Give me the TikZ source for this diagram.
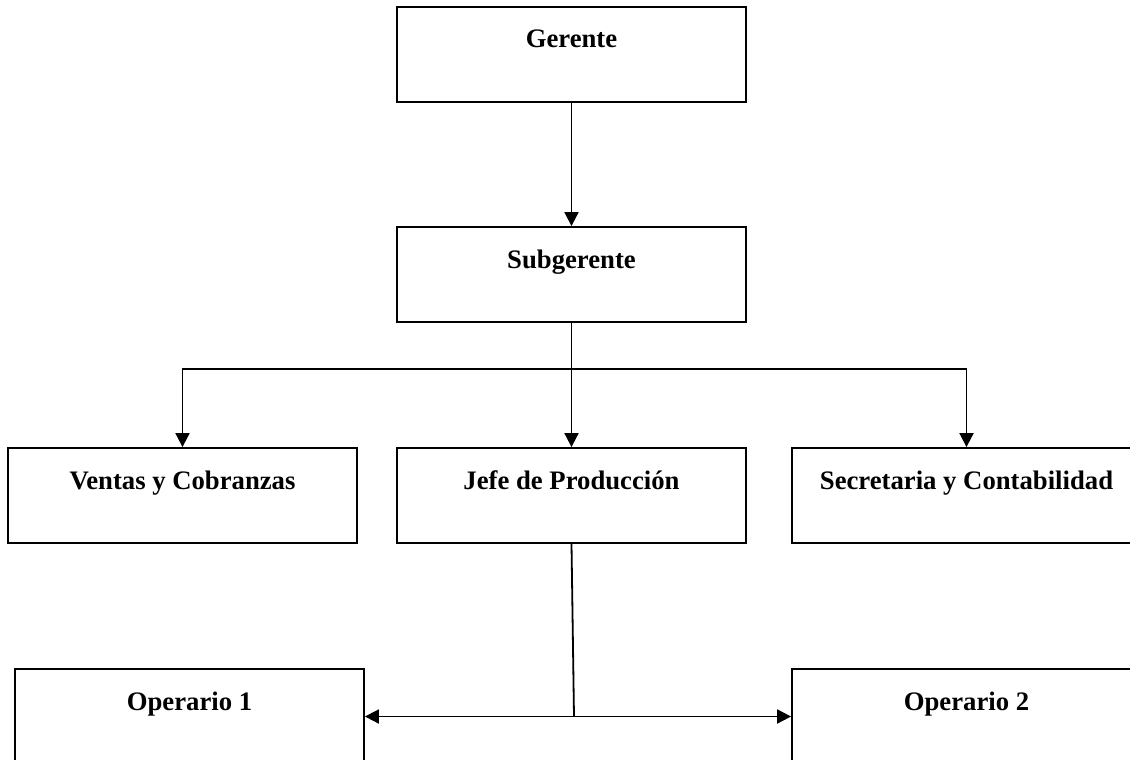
\documentclass[tikz,border=0pt]{standalone}
\usepackage{fontspec}
\setmainfont{Liberation Serif}
\usetikzlibrary{arrows.meta}

\begin{document}
\begin{tikzpicture}[x=1pt,y=-1pt,
      puesto/.style={rectangle,draw,line width=1.8pt,inner sep=0pt,
        minimum width=349pt,text height=41pt,text depth=54pt,
        font=\fontsize{26.7}{32}\selectfont\bfseries},
      enlace/.style={line width=1.8pt},
      flecha/.style={enlace,-{Triangle[length=14pt,width=14pt]}}]
      \useasboundingbox (0,0) rectangle (1130,760);
      % Direccion
      \node[puesto] (gerente) at (571.5,54.5) {Gerente};
      \node[puesto] (subgerente) at (571.5,274.5) {Subgerente};
      % Areas
      \node[puesto] (ventas) at (182.5,495.5) {Ventas y Cobranzas};
      \node[puesto] (jefe) at (571.5,495.5) {Jefe de Producci\'on};
      \node[puesto] (secretaria) at (966.5,495.5) {Secretaria y Contabilidad};
      % Operarios
      \node[puesto] (op1) at (189.5,716.5) {Operario 1};
      \node[puesto] (op2) at (966.5,716.5) {Operario 2};
      % Conexiones
      \coordinate (reparto) at (571.5,369);
      \coordinate (union) at (574,716.5);
      \draw[flecha] (gerente) -- (subgerente);
      \draw[enlace] (subgerente) -- (reparto);
      \draw[flecha] (reparto) -| (ventas.north);
      \draw[flecha] (reparto) -- (jefe);
      \draw[flecha] (reparto) -| (secretaria.north);
      \draw[enlace] (jefe.south) -- (union);
      \draw[flecha] (union) -- (op1);
      \draw[flecha] (union) -- (op2);
\end{tikzpicture}
\end{document}
